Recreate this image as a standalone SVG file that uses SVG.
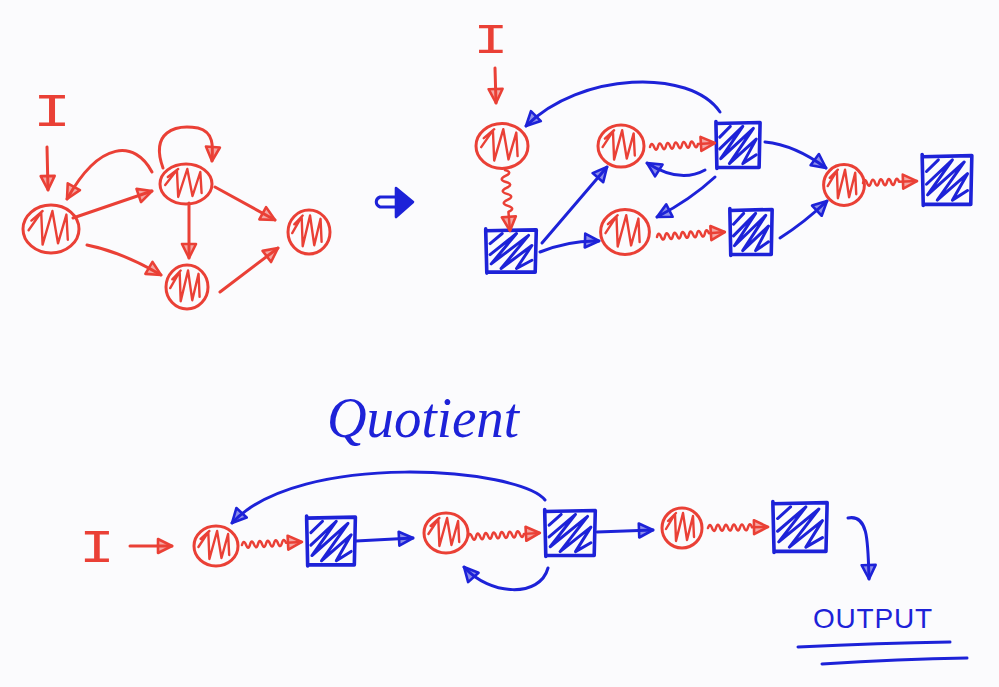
<svg xmlns="http://www.w3.org/2000/svg" xmlns:xlink="http://www.w3.org/1999/xlink" width="999" height="687" viewBox="0 0 999 687">
  <style>
    .r { stroke: #ea4036; fill: none; stroke-linecap: round; stroke-linejoin: round; }
    .b { stroke: #1d22d8; fill: none; stroke-linecap: round; stroke-linejoin: round; }
    .n { vector-effect: non-scaling-stroke; }
    .edge { stroke-width: 3; }
    .wave { stroke-width: 2.5; }
    .rt { fill: #ea4036; }
    .bt { fill: #1d22d8; }
    .inp { font-family: "Liberation Mono", monospace; fill: #ea4036; }
  </style>
  <defs>
    <!-- red state: circle with scribbled fill -->
    <g id="redNode">
      <circle class="r n" r="20" stroke-width="3"/>
      <path class="r n" stroke-width="2.4" d="M-14 -7 L-6 -15 M-16 1 L-7 -14 L-6 13 L1 -15 L5 12 L11 -12 L12 9"/>
    </g>
    <!-- blue state: square with hatching -->
    <g id="blueNode">
      <path class="b n" stroke-width="3.6" d="M-23 -22 L23 -23 L22 23 L-22 23 Z M-23 -24 L-22 24"/>
      <path class="b n" stroke-width="3" d="M-19 -8 L-8 -19 M-19 4 L5 -19 L-18 14 L16 -17 L-9 19 L19 -6 L5 19 L19 10"/>
    </g>
    <marker id="hr" viewBox="0 0 20 20" refX="17" refY="10" markerWidth="20" markerHeight="20" markerUnits="userSpaceOnUse" orient="auto">
      <path d="M3 3 L17 10 L3 17 Z" fill="#ea4036" fill-opacity="0.45" stroke="#ea4036" stroke-width="2.6" stroke-linejoin="round"/>
    </marker>
    <marker id="hb" viewBox="0 0 20 20" refX="17" refY="10" markerWidth="20" markerHeight="20" markerUnits="userSpaceOnUse" orient="auto">
      <path d="M3 3 L17 10 L3 17 Z" fill="#1d22d8" fill-opacity="0.5" stroke="#1d22d8" stroke-width="2.6" stroke-linejoin="round"/>
    </marker>
  </defs>

  <rect width="999" height="687" fill="#fbfbfd"/>

  <!-- ===== original graph (top left) ===== -->
  <g id="labels-left">
    <text x="52" y="126" class="inp" font-size="46" text-anchor="middle" transform="translate(52 0) scale(1.4 1) translate(-52 0)">I</text>
  </g>
  <g id="left-A"><use href="#redNode" transform="translate(51 229) scale(1.4 1.2)"/></g>
  <g id="left-B"><use href="#redNode" transform="translate(186 184) scale(1.3 1)"/></g>
  <g id="left-C"><use href="#redNode" transform="translate(187 287) scale(1.05 1.1)"/></g>
  <g id="left-D"><use href="#redNode" transform="translate(309 232) scale(1.05 1.1)"/></g>
  <g id="left-edges" class="r edge">
    <path d="M47 147 L48 190" marker-end="url(#hr)"/>
    <path d="M152 172 C135 140 100 140 67 199" marker-end="url(#hr)"/>
    <path d="M163 168 C150 132 175 124 198 128 C214 132 213 146 212 161" marker-end="url(#hr)"/>
    <path d="M73 218 L152 191" marker-end="url(#hr)"/>
    <path d="M87 245 Q122 252 161 275" marker-end="url(#hr)"/>
    <path d="M189 203 L189 258" marker-end="url(#hr)"/>
    <path d="M215 187 L275 220" marker-end="url(#hr)"/>
    <path d="M220 292 L278 248" marker-end="url(#hr)"/>
  </g>

  <!-- transformation arrow -->
  <g id="implies" class="b" stroke-width="3">
    <path d="M380 197 L396 197 M380 207 L396 207 M380 197 C375 199 375 205 380 207"/>
    <path d="M396 188 L413 202 L396 217 Z" fill="#1d22d8" stroke-width="2.6"/>
  </g>

  <!-- ===== refined graph (top right) ===== -->
  <g id="labels-right">
    <text x="491" y="53" class="inp" font-size="42" text-anchor="middle" transform="translate(491 0) scale(1.4 1) translate(-491 0)">I</text>
  </g>
  <g id="right-R1"><use href="#redNode" transform="translate(502 146) scale(1.3 1.12)"/></g>
  <g id="right-R2"><use href="#redNode" transform="translate(621 146) scale(1.15 1.05)"/></g>
  <g id="right-R3"><use href="#redNode" transform="translate(625 232) scale(1.22 1.12)"/></g>
  <g id="right-R4"><use href="#redNode" transform="translate(844 185) scale(1.02 1.02)"/></g>
  <g id="right-S1"><use href="#blueNode" transform="translate(511 251) scale(1.1 0.92)"/></g>
  <g id="right-S2"><use href="#blueNode" transform="translate(738 145) scale(0.96 0.98)"/></g>
  <g id="right-S3"><use href="#blueNode" transform="translate(751 232) scale(0.92 0.98)"/></g>
  <g id="right-S4"><use href="#blueNode" transform="translate(947 180) scale(1.08 1.06)"/></g>
  <g id="right-edges">
    <path class="r edge" d="M495 68 L496 103" marker-end="url(#hr)"/>
    <path class="r wave" transform="translate(505 170) rotate(85.3)" d="M0 0 q3 -8 6 0 t6 0 t6 0 t6 0 t6 0 t6 0 t6 0 h19" marker-end="url(#hr)"/>
    <path class="r wave" transform="translate(650 147) rotate(-3.5)" d="M0 0 q2 -6 4 0 t4 0 t4 0 t4 0 t4 0 t4 0 t4 0 t4 0 t4 0 t4 0 t4 0 t4 0 h17" marker-end="url(#hr)"/>
    <path class="r wave" transform="translate(657 237) rotate(-4.2)" d="M0 0 q2 -6 4 0 t4 0 t4 0 t4 0 t4 0 t4 0 t4 0 t4 0 t4 0 t4 0 t4 0 t4 0 t4 0 h16" marker-end="url(#hr)"/>
    <path class="r wave" transform="translate(863 183) rotate(-2)" d="M0 0 q2 -6 4 0 t4 0 t4 0 t4 0 t4 0 t4 0 t4 0 t4 0 t4 0 h18" marker-end="url(#hr)"/>
    <g class="b edge">
      <path d="M720 112 C690 68 580 72 526 126" marker-end="url(#hb)"/>
      <path d="M542 243 L607 167" marker-end="url(#hb)"/>
      <path d="M540 252 Q570 240 599 241" marker-end="url(#hb)"/>
      <path d="M705 170 Q680 184 647 163" marker-end="url(#hb)"/>
      <path d="M715 177 Q690 200 657 217" marker-end="url(#hb)"/>
      <path d="M765 142 Q795 145 826 168" marker-end="url(#hb)"/>
      <path d="M780 238 Q805 222 827 201" marker-end="url(#hb)"/>
    </g>
  </g>

  <!-- ===== quotient graph (bottom) ===== -->
  <g id="title">
    <text x="327" y="437" class="bt" font-family="Liberation Serif, serif" font-style="italic" font-size="56" textLength="192" lengthAdjust="spacingAndGlyphs">Quotient</text>
  </g>
  <g id="labels-bottom">
    <text x="97" y="562" class="inp" font-size="46" text-anchor="middle" transform="translate(97 0) scale(1.3 1) translate(-97 0)">I</text>
  </g>
  <g id="q-R1"><use href="#redNode" transform="translate(216 546) scale(1.1 1)"/></g>
  <g id="q-S1"><use href="#blueNode" transform="translate(331 541) scale(1.06 1.04)"/></g>
  <g id="q-R2"><use href="#redNode" transform="translate(446 533) scale(1.1 1)"/></g>
  <g id="q-S2"><use href="#blueNode" transform="translate(570 533) scale(1.1 0.98)"/></g>
  <g id="q-R3"><use href="#redNode" transform="translate(682 528) scale(1 1)"/></g>
  <g id="q-S3"><use href="#blueNode" transform="translate(800 527) scale(1.18 1.06)"/></g>
  <g id="q-edges">
    <path class="r edge" d="M130 546 L172 546" marker-end="url(#hr)"/>
    <path class="r wave" transform="translate(242 545) rotate(-2.9)" d="M0 0 q2 -6 4 0 t4 0 t4 0 t4 0 t4 0 t4 0 t4 0 t4 0 t4 0 t4 0 t4 0 h16" marker-end="url(#hr)"/>
    <path class="r wave" transform="translate(468 537) rotate(-3.2)" d="M0 0 q2 -6 4 0 t4 0 t4 0 t4 0 t4 0 t4 0 t4 0 t4 0 t4 0 t4 0 t4 0 t4 0 t4 0 t4 0 h16" marker-end="url(#hr)"/>
    <path class="r wave" transform="translate(708 528) rotate(-1)" d="M0 0 q2 -6 4 0 t4 0 t4 0 t4 0 t4 0 t4 0 t4 0 t4 0 t4 0 t4 0 t4 0 h16" marker-end="url(#hr)"/>
    <g class="b edge">
      <path d="M356 541 L413 538" marker-end="url(#hb)"/>
      <path d="M545 500 C520 468 300 450 232 523" marker-end="url(#hb)"/>
      <path d="M548 568 C540 598 490 596 464 567" marker-end="url(#hb)"/>
      <path d="M597 532 L653 530" marker-end="url(#hb)"/>
      <path d="M848 518 C868 514 868 540 869 579" marker-end="url(#hb)"/>
    </g>
  </g>
  <g id="output">
    <text x="813" y="628" class="bt" font-family="Liberation Sans, sans-serif" font-size="28" textLength="119" lengthAdjust="spacing">OUTPUT</text>
    <path class="b" stroke-width="3" d="M798 647 Q880 643 950 642 M822 664 Q900 659 967 658"/>
  </g>
</svg>
